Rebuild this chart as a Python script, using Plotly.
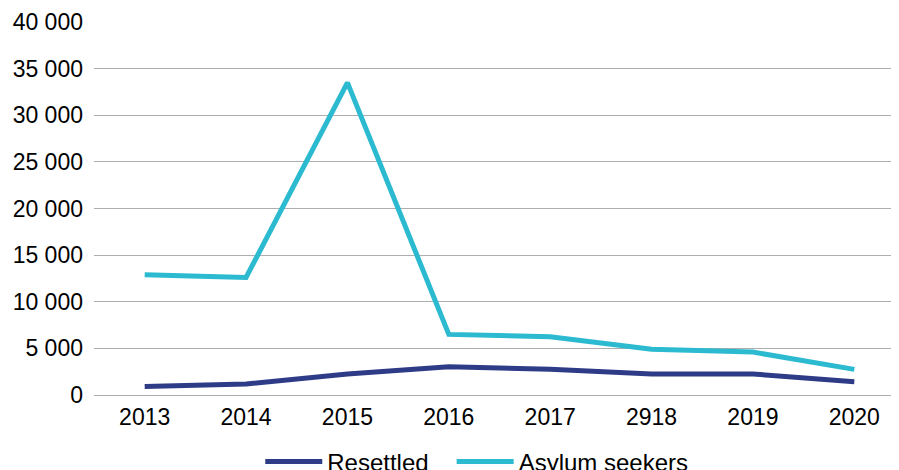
import plotly.graph_objects as go

years = ["2013", "2014", "2015", "2016", "2017", "2918", "2019", "2020"]
resettled = [900, 1180, 2250, 3030, 2750, 2250, 2250, 1430]
asylum = [12900, 12600, 33500, 6500, 6250, 4900, 4600, 2750]

FONT = "Liberation Sans, Arial, sans-serif"

fig = go.Figure()
fig.add_trace(go.Scatter(x=years, y=resettled, name="Resettled", mode="lines",
                         line=dict(color="#2E3C87", width=5), legend="legend"))
fig.add_trace(go.Scatter(x=years, y=asylum, name="Asylum seekers", mode="lines",
                         line=dict(color="#2BBACF", width=5), legend="legend2"))

leg = dict(orientation="h", xanchor="left", y=-0.119, yanchor="top",
           font=dict(size=24), itemwidth=57)

# page body has an 8px default margin, so the figure is sized to fill the rest
fig.update_layout(
    width=897, height=462,
    margin=dict(l=86, r=0, t=14, b=75, autoexpand=False),
    paper_bgcolor="white", plot_bgcolor="white",
    font=dict(family=FONT, size=23, color="#000000"),
    separators=", ",
    showlegend=True,
    legend=dict(leg, x=0.205),
    legend2=dict(leg, x=0.441),
)
fig.update_xaxes(type="category", range=[-0.5, 7.5], showgrid=False, showline=False,
                 zeroline=False, ticks="", ticklabelstandoff=6, automargin=False)
fig.update_yaxes(range=[0, 40000], dtick=5000, tickformat=",d", showgrid=True,
                 gridcolor="#AEAEAE", gridwidth=1.3, zeroline=True, zerolinecolor="#AEAEAE",
                 zerolinewidth=1.3, showline=False, ticks="", ticklabelstandoff=10,
                 automargin=False)

fig.write_html("out.html")
